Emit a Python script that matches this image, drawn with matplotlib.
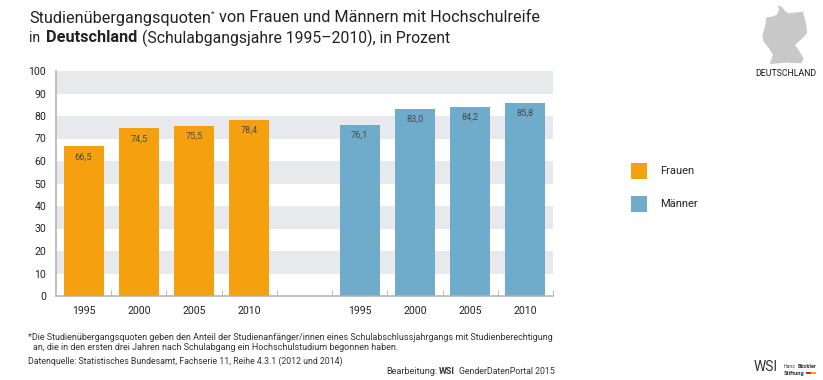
import matplotlib
matplotlib.use("Agg")
import matplotlib.pyplot as plt
from matplotlib.patches import Polygon, Rectangle

plt.rcParams['font.family'] = ['Roboto', 'Liberation Sans', 'DejaVu Sans']

W, H = 823, 380
years = ["1995", "2000", "2005", "2010"]
frauen = [66.5, 74.5, 75.5, 78.4]
maenner = [76.1, 83.0, 84.2, 85.8]
yticks = list(range(0, 101, 10))
bands = [(10, 20), (30, 40), (50, 60), (70, 80), (90, 100)]
ORANGE = "#f5a10f"
BLUE = "#6fabcb"
BAND = "#e8e9ed"
AXIS = "#b0b0b0"
TXT = "#222222"
map_outline = [(165,15),(178,22),(185,32),(196,40),(222,37),(240,35),(245,55),(250,75),(252,100),(235,118),(216,135),
               (228,152),(242,175),(235,190),(190,188),(140,192),(150,165),(140,148),(122,125),(118,105),(126,80),
               (130,52),(148,50),(162,44),(168,30)]

fig = plt.figure(figsize=(W/100, H/100), dpi=100)
renderer = fig.canvas.get_renderer()
ax = fig.add_axes([56/W, 1-296/H, 497/W, 225/H])
ax.set_xlim(0, 9)
ax.set_ylim(0, 100)
for lo, hi in bands:
    ax.axhspan(lo, hi, color=BAND, lw=0, zorder=0)

xf = [i + 0.5 for i in range(4)]
xm = [i + 5.5 for i in range(4)]
ax.bar(xf, frauen, width=0.725, color=ORANGE, zorder=2)
ax.bar(xm, maenner, width=0.725, color=BLUE, zorder=2)
for x, v in list(zip(xf, frauen)) + list(zip(xm, maenner)):
    ax.text(x, v - 4.6, f"{v:.1f}".replace(".", ","), ha="center", va="center",
            fontsize=6.6, color="#4a4a4a", zorder=3)

ax.set_yticks(yticks)
ax.set_yticklabels([str(t) for t in yticks], fontsize=7.6, color=TXT)
ax.tick_params(axis="y", length=0, pad=7)
ax.set_xticks(range(1, 10))
ax.set_xticklabels([])
ax.tick_params(axis="x", direction="in", length=4, width=0.6, color=AXIS)
for s in ("top", "right"):
    ax.spines[s].set_visible(False)
for s in ("left", "bottom"):
    ax.spines[s].set_color(AXIS)
    ax.spines[s].set_linewidth(1.1)
for x, y in zip(xf + xm, years + years):
    ax.annotate(y, (x, 0), xytext=(0, -11), textcoords="offset points", ha="center", va="center",
                fontsize=7.6, color=TXT, annotation_clip=False)

def t(px, py, s, **kw):
    kw.setdefault("color", TXT)
    kw.setdefault("va", "center")
    return fig.text(px/W, 1-py/H, s, **kw)

def fit(px, py, s, width, **kw):
    """Place text starting at px with the font size that gives it the width seen in the reference."""
    art = t(px, py, s, fontsize=10, **kw)
    art.set_fontsize(10 * width / art.get_window_extent(renderer).width)
    return art

fit(29, 18, "Studienübergangsquoten", 181)
t(211, 14, "*", fontsize=6)
fit(219, 18, "von Frauen und Männern mit Hochschulreife", 321)
fit(29, 38, "in", 11)
fit(46, 38, "Deutschland", 91, fontweight="bold")
fit(142, 38, "(Schulabgangsjahre 1995–2010), in Prozent", 308)

for py, col, lab in [(171, ORANGE, "Frauen"), (204, BLUE, "Männer")]:
    fig.add_artist(Rectangle((631/W, 1-(py+8)/H), 16/W, 16/H, transform=fig.transFigure, color=col, lw=0))
    t(660, py, lab, fontsize=8)

C2 = "#333333"
fit(28, 338, "*Die Studienübergangsquoten geben den Anteil der Studienanfänger/innen eines Schulabschlussjahrgangs mit Studienberechtigung", 527, color=C2)
fit(33, 348, "an, die in den ersten drei Jahren nach Schulabgang ein Hochschulstudium begonnen haben.", 369, color=C2)
fit(28, 361, "Datenquelle: Statistisches Bundesamt, Fachserie 11, Reihe 4.3.1 (2012 und 2014)", 317, color=C2)
fit(386, 372, "Bearbeitung:", 51, color=C2)
fit(439, 372, "WSI", 16, fontweight="bold", color=C2)
fit(459, 372, "GenderDatenPortal 2015", 96, color=C2)

pts = [((723 + x/3)/W, 1-(y/3)/H) for x, y in map_outline]
fig.add_artist(Polygon(pts, closed=True, transform=fig.transFigure, color="#c8c8c8", lw=0))
fit(755, 73, "DEUTSCHLAND", 61, color="#1a1a1a")

fit(754, 367, "WSI", 24, color="#333333")
fit(784, 366, "Hans", 12, color="#444444")
fit(798, 366, "Böckler", 19, fontweight="bold", color="#333333")
fit(784, 373, "Stiftung", 21, fontweight="bold", color="#333333")
fig.add_artist(Rectangle((806/W, 1-374/H), 5/W, 2.5/H, transform=fig.transFigure, color="#e2231a", lw=0))
fig.add_artist(Rectangle((811/W, 1-374/H), 5/W, 2.5/H, transform=fig.transFigure, color=ORANGE, lw=0))

fig.savefig("out.png", dpi=100)
